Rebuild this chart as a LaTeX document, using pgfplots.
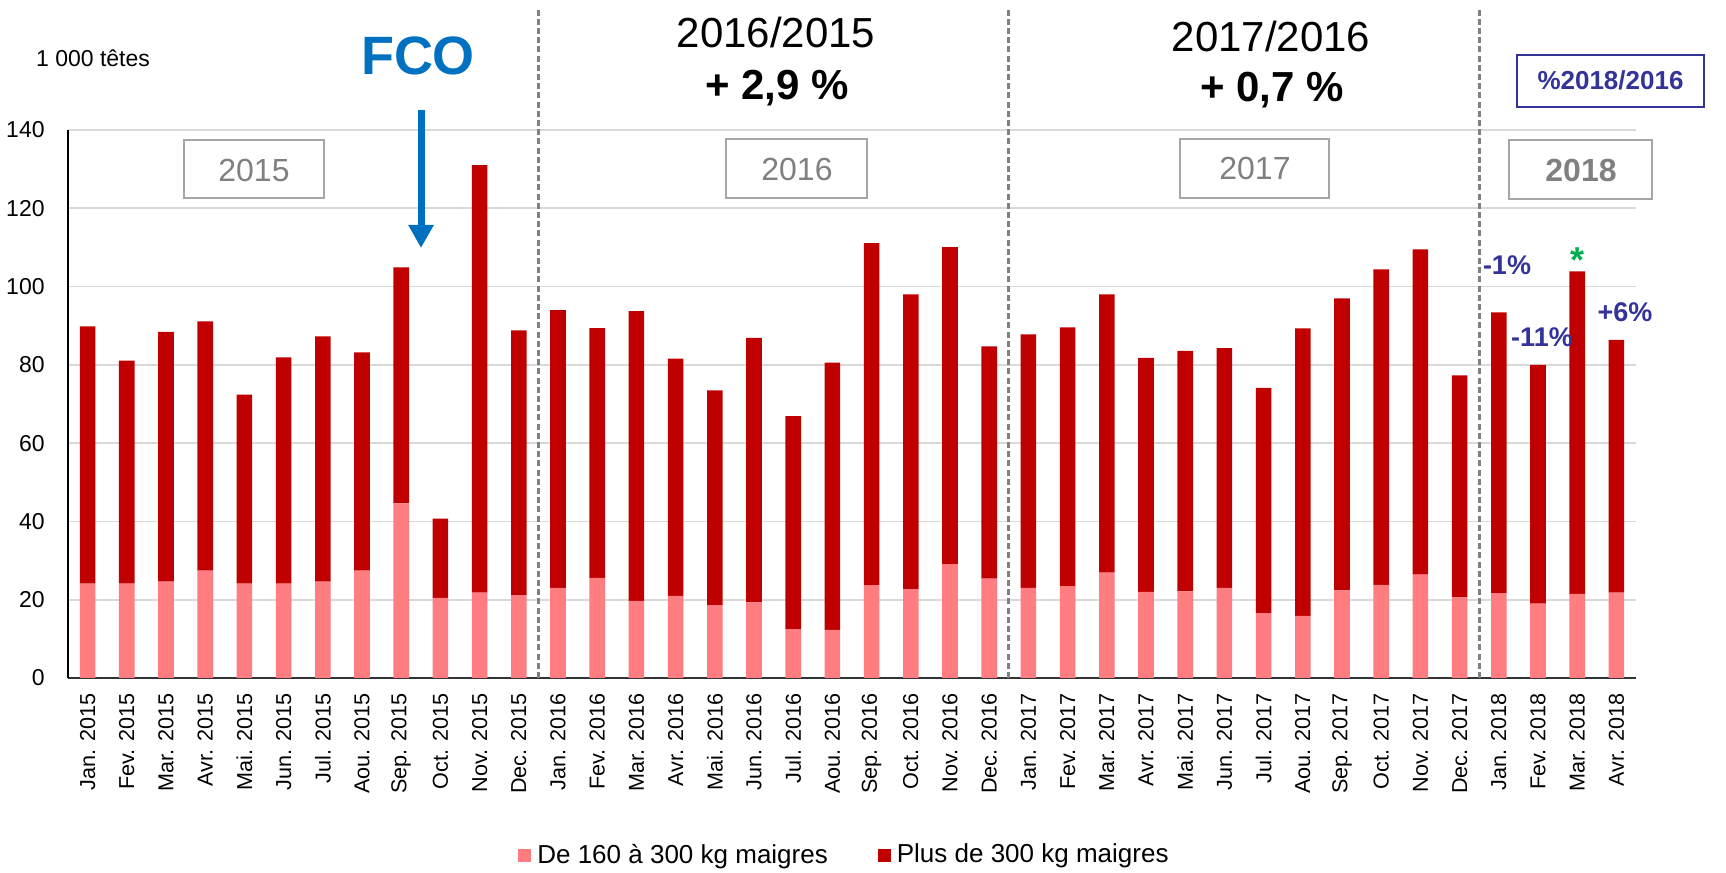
\documentclass[border=0pt]{standalone}
\usepackage{fontspec}
\setmainfont{Liberation Sans}
\usepackage{pgfplots}
\pgfplotsset{compat=1.18}
\usetikzlibrary{arrows.meta}
\definecolor{pinkbar}{RGB}{255,124,128}
\definecolor{darkbar}{RGB}{192,0,0}
\definecolor{gridgray}{RGB}{217,217,217}
\definecolor{dashgray}{RGB}{128,128,128}
\definecolor{boxgray}{RGB}{166,166,166}
\definecolor{yeargray}{RGB}{128,128,128}
\definecolor{fcoblue}{RGB}{0,112,192}
\definecolor{pctblue}{RGB}{51,51,153}
\definecolor{stargreen}{RGB}{0,176,80}

\begin{document}
\begin{tikzpicture}
\useasboundingbox (0,0) rectangle (863pt,436.5pt);
\begin{axis}[
    at={(34pt,97.5pt)}, anchor=south west,
    scale only axis, width=784pt, height=274pt,
    ybar stacked, bar width=7.8pt,
    xmin=0.5, xmax=40.5, ymin=0, ymax=140,
    ytick={0,20,...,140},
    xtick={1,...,40},
    xticklabels={Jan. 2015,Fev. 2015,Mar. 2015,Avr. 2015,Mai. 2015,Jun. 2015,Jul. 2015,Aou. 2015,Sep. 2015,Oct. 2015,Nov. 2015,Dec. 2015,
                 Jan. 2016,Fev. 2016,Mar. 2016,Avr. 2016,Mai. 2016,Jun. 2016,Jul. 2016,Aou. 2016,Sep. 2016,Oct. 2016,Nov. 2016,Dec. 2016,
                 Jan. 2017,Fev. 2017,Mar. 2017,Avr. 2017,Mai. 2017,Jun. 2017,Jul. 2017,Aou. 2017,Sep. 2017,Oct. 2017,Nov. 2017,Dec. 2017,
                 Jan. 2018,Fev. 2018,Mar. 2018,Avr. 2018},
    x tick label style={rotate=90, anchor=east, inner sep=0pt, font=\fontsize{10.8}{12}\selectfont},
    y tick label style={anchor=east, inner sep=0pt, font=\fontsize{11.5}{13}\selectfont},
    xticklabel shift=7.5pt, yticklabel shift=11.5pt,
    /pgf/number format/assume math mode=true,
    ymajorgrids, grid style={color=gridgray, line width=0.8pt},
    axis x line*=bottom, axis y line*=left,
    axis line style={-},
    x axis line style={line width=1pt, black!80},
    y axis line style={line width=0.8pt, black},
    major tick length=0pt,
    clip=false,
    legend columns=2,
    legend image code/.code={\fill[#1] (0pt,-3.25pt) rectangle (6.5pt,3.25pt);},
    legend style={at={(0.4952,-0.323)}, anchor=center, draw=none, fill=none,
        font=\fontsize{13}{15}\selectfont,
        nodes={inner sep=1pt},
        /tikz/every odd column/.append style={column sep=2pt},
        /tikz/every even column/.append style={column sep=24pt}},
]
\addplot[fill=pinkbar, draw=none] coordinates {
 (1,24.1) (2,24.1) (3,24.6) (4,27.4) (5,24.1) (6,24.1) (7,24.6) (8,27.4) (9,44.6) (10,20.5) (11,21.8) (12,21.2)
 (13,23.0) (14,25.6) (15,19.7) (16,21.0) (17,18.6) (18,19.3) (19,12.5) (20,12.3) (21,23.7) (22,22.7) (23,29.1) (24,25.4)
 (25,23.0) (26,23.5) (27,26.9) (28,22.0) (29,22.1) (30,23.0) (31,16.6) (32,15.9) (33,22.4) (34,23.8) (35,26.4) (36,20.6)
 (37,21.7) (38,19.0) (39,21.5) (40,21.8)
};
\addlegendentry{De 160 à 300 kg maigres}
\addplot[fill=darkbar, draw=none] coordinates {
 (1,65.7) (2,57.0) (3,63.8) (4,63.7) (5,48.3) (6,57.8) (7,62.7) (8,55.8) (9,60.3) (10,20.2) (11,109.2) (12,67.6)
 (13,71.0) (14,63.8) (15,74.0) (16,60.6) (17,54.9) (18,67.6) (19,54.4) (20,68.3) (21,87.4) (22,75.3) (23,81.0) (24,59.3)
 (25,64.8) (26,66.1) (27,71.1) (28,59.8) (29,61.5) (30,61.3) (31,57.5) (32,73.4) (33,74.6) (34,80.6) (35,83.1) (36,56.7)
 (37,71.7) (38,61.0) (39,82.4) (40,64.6)
};
\addlegendentry{Plus de 300 kg maigres}
% separateurs d'annees
\draw[dashgray, line width=1.5pt, dash pattern=on 3pt off 1.6pt] (axis cs:12.5,0) -- (axis cs:12.5,171);
\draw[dashgray, line width=1.5pt, dash pattern=on 3pt off 1.6pt] (axis cs:24.5,0) -- (axis cs:24.5,171);
\draw[dashgray, line width=1.5pt, dash pattern=on 3pt off 1.6pt] (axis cs:36.5,0) -- (axis cs:36.5,171);
\end{axis}

% annotations, coordonnees en pixels de l'image
\begin{scope}[x=0.5pt, y=-0.5pt, shift={(0pt,436.5pt)}]
\node[anchor=base, inner sep=0, font=\fontsize{11.5}{13}\selectfont] at (93,67) {1 000 têtes};
\node[anchor=base, inner sep=0, text=fcoblue, font=\bfseries\fontsize{27}{30}\selectfont] at (418,75) {FCO};
\draw[fcoblue, line width=3.5pt, -{Triangle[width=12pt,length=11.5pt]}] (421,110) -- (421,248);

\node[anchor=base, inner sep=0, font=\fontsize{21}{25}\selectfont] at (776,48) {2016/2015};
\node[anchor=base, inner sep=0, font=\bfseries\fontsize{21}{25}\selectfont] at (777,100) {+ 2,9 \%};
\node[anchor=base, inner sep=0, font=\fontsize{21}{25}\selectfont] at (1271,51.5) {2017/2016};
\node[anchor=base, inner sep=0, font=\bfseries\fontsize{21}{25}\selectfont] at (1272,101.5) {+ 0,7 \%};

\draw[boxgray, line width=1pt] (184,140) rectangle (324,198);
\node[anchor=base, inner sep=0, text=yeargray, font=\fontsize{16}{18}\selectfont] at (254,182) {2015};
\draw[boxgray, line width=1pt] (726,139) rectangle (867,198);
\node[anchor=base, inner sep=0, text=yeargray, font=\fontsize{16}{18}\selectfont] at (797,181) {2016};
\draw[boxgray, line width=1pt] (1180,139) rectangle (1329,198);
\node[anchor=base, inner sep=0, text=yeargray, font=\fontsize{16}{18}\selectfont] at (1255,180) {2017};
\draw[boxgray, line width=1pt] (1509,140) rectangle (1652,199);
\node[anchor=base, inner sep=0, text=yeargray, font=\bfseries\fontsize{16}{18}\selectfont] at (1581,182) {2018};

\draw[pctblue, line width=1pt] (1517,55) rectangle (1704,107);
\node[anchor=base, inner sep=0, text=pctblue, font=\bfseries\fontsize{13}{15}\selectfont] at (1610.5,90) {\%2018/2016};

\node[anchor=base, inner sep=0, text=pctblue, font=\bfseries\fontsize{13.5}{15}\selectfont] at (1507,275) {-1\%};
\node[anchor=base, inner sep=0, text=pctblue, font=\bfseries\fontsize{13.5}{15}\selectfont] at (1542,347) {-11\%};
\node[anchor=base, inner sep=0, text=pctblue, font=\bfseries\fontsize{13.5}{15}\selectfont] at (1625,322) {+6\%};
\node[anchor=north, inner sep=0, text=stargreen, font=\bfseries\fontsize{18}{20}\selectfont] at (1577.5,247) {*};
\end{scope}
\end{tikzpicture}
\end{document}
